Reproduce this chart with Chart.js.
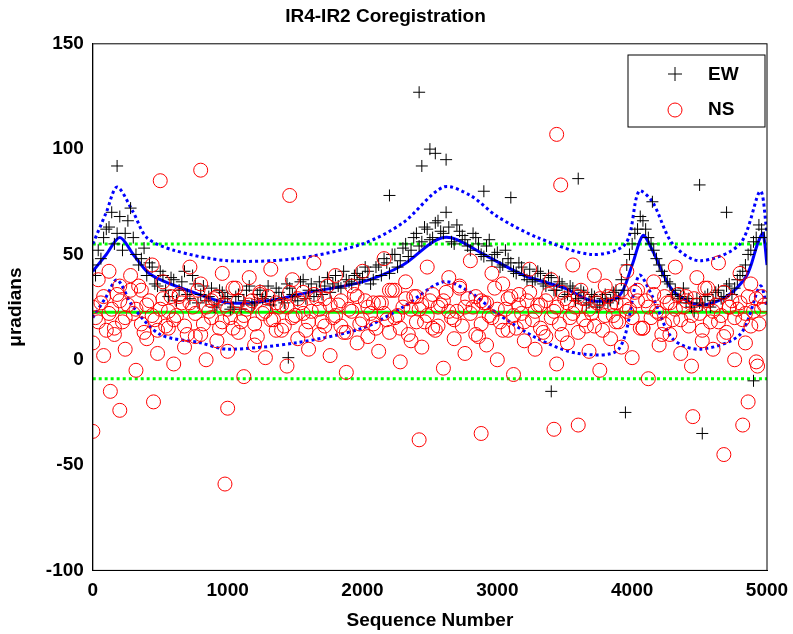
<!DOCTYPE html>
<html><head><meta charset="utf-8">
<script src="https://cdn.jsdelivr.net/npm/chart.js@4/dist/chart.umd.min.js"></script>
<style>html,body{margin:0;background:#fff}#wrap{width:793px;height:634px}</style>
</head><body><div id="wrap"><canvas id="c"></canvas></div>
<script>
'use strict';

const seq = [0,40,80,120,160,200,240,280,320,360,400,440,480,520,560,600,640,680,720,760,800,840,880,920,960,1000,1040,1080,1120,1160,1200,1240,1280,1320,1360,1400,1440,1480,1520,1560,1600,1640,1680,1720,1760,1800,1840,1880,1920,1960,2000,2040,2080,2120,2160,2200,2240,2280,2320,2360,2400,2440,2480,2520,2560,2600,2640,2680,2720,2760,2800,2840,2880,2920,2960,3000,3040,3080,3120,3160,3200,3240,3280,3320,3360,3400,3440,3480,3520,3560,3600,3640,3680,3720,3760,3800,3840,3880,3920,3960,4000,4040,4080,4120,4160,4200,4240,4280,4320,4360,4400,4440,4480,4520,4560,4600,4640,4680,4720,4760,4800,4840,4880,4920,4960];
const seq2 = [20,60,100,140,180,220,260,300,340,380,420,460,500,540,580,620,660,700,740,780,820,860,900,940,980,1020,1060,1100,1140,1180,1220,1260,1300,1340,1380,1420,1460,1500,1540,1580,1620,1660,1700,1740,1780,1820,1860,1900,1940,1980,2020,2060,2100,2140,2180,2220,2260,2300,2340,2380,2420,2460,2500,2540,2580,2620,2660,2700,2740,2780,2820,2860,2900,2940,2980,3020,3060,3100,3140,3180,3220,3260,3300,3340,3380,3420,3460,3500,3540,3580,3620,3660,3700,3740,3780,3820,3860,3900,3940,3980,4020,4060,4100,4140,4180,4220,4260,4300,4340,4380,4420,4460,4500,4540,4580,4620,4660,4700,4740,4780,4820,4860,4900,4940,4980];
const ewY = [45,52,58,63,55,68,60,72,50,48,40,
  44,35,40,30,38,33,42,29,36,31,28,34,26,32,30,
  25,31,28,35,27,33,30,26,34,29,36,31,28,38,33,30,37,35,32,40,34,38,36,41,39,
  42,38,45,48,41,50,47,55,52,60,56,62,58,66,60,
  63,55,61,57,52,58,50,54,47,51,45,48,42,46,40,
  43,38,41,35,39,33,36,31,34,29,32,27,30,26,31,28,33,
  38,45,55,62,66,58,52,45,40,36,33,
  30,27,25,29,26,31,28,33,30,36,34,40,45,52,58,62];
const ewY2 = [40,48,62,70,60,52,66,58,45,53,46,
  36,42,33,39,28,37,31,40,27,35,30,25,33,29,24,
  30,24,33,26,31,29,35,28,32,27,34,30,37,29,36,33,31,39,36,35,42,37,40,38,44,
  36,44,40,46,50,44,53,49,58,54,63,57,65,61,70,
  56,64,59,54,60,55,49,57,50,44,52,46,41,44,38,
  37,42,36,40,33,37,30,35,28,33,26,31,25,29,27,32,29,
  33,50,60,68,62,55,48,42,37,31,29,
  34,29,23,27,30,25,32,29,35,31,38,42,50,56,64,58];
const nsYa = [25,18,30,22,15,28,20,33,24,17,26,21,14,29,23,19,31,16,27,22,
  12,25,20,30,18,24,15,28,21,26,17,32,23,19,27,14,25,20,29,22,
  18,31,24,16,26,21,28,13,23,30,19,25,17,27,22,33,20,15,29,24,
  18,26,21,31,16,28,23,19,35,25,22,30,17,27,20,24,14,29,21,26,
  18,32,23,15,28,20,25,12,27,22,30,19,24,16,29,21,26,18,33,23,
  20,28,15,25,31,22,17,27,24,19,30,21,26,14,28,23,18,32,25,20,
  27,22,16,29,24];
const nsYb = [8,38,2,42,12,35,5,40,-5,33,10,45,3,37,15,-2,30,6,44,11,
  36,0,28,9,41,4,34,13,-8,39,7,31,1,43,14,26,-3,38,10,32,
  5,46,12,29,2,40,16,-6,35,8,42,11,27,4,48,13,33,-1,37,9,
  30,6,44,15,25,-4,39,10,34,3,47,12,28,7,41,0,36,14,-7,31,
  9,43,5,26,11,38,-2,32,8,45,13,29,4,40,-5,35,10,27,6,42,
  1,33,15,-9,37,7,30,12,44,3,28,-3,39,9,34,5,46,11,25,0,
  41,8,36,-1,30];
const nsYc = [20,27,14,24,31,18,26,22,35,13,28,19,24,16,30,21,27,12,25,33,
  17,23,29,15,26,20,34,18,24,28,11,22,30,19,25,16,32,21,27,14,
  23,29,18,35,20,26,13,24,31,17,28,22,15,27,19,33,21,25,12,30,
  24,18,28,14,26,32,20,23,16,29,25,11,27,21,34,18,24,30,15,22,
  28,19,26,13,31,23,17,29,20,25,33,16,22,27,14,30,21,18,26,24,
  32,15,28,20,23,12,27,19,31,25,16,29,22,34,18,26,21,13,28,24,
  19,30,23,17,26];
const ewOutX = [2420,2500,2540,180,2620,2440,2900,3600,4500,3950,4520,3400,1450,3100,4150,2200,4700,4900];
const ewOutY = [127,100,98,92,95,92,80,86,83,-25,-35,-15,1,77,75,78,70,-10];
const nsOutX = [0,980,2420,2880,4680,4820,3440,800,1460,200,1000,4450,3600,3420,450,130,3470,500,4930,4860];
const nsOutY = [-34,-59,-38,-35,-45,-31,107,90,78,-24,-23,-27,-31,-33,-20,-15,83,85,-3,-20];

const meanX = [0,100,200,300,400,500,700,1000,1300,1600,2000,2300,2500,2600,2700,2900,3200,3500,3700,3900,4000,4080,4150,4300,4500,4700,4850,4930,4970,5000];
const meanY = [42,50,58,50,42,38,33,27,28,32,37,45,55,58,57,50,40,34,28,30,45,59,52,33,26,30,40,55,60,45];
const upX = [0,100,180,300,400,600,1000,1500,2000,2300,2600,2800,3000,3300,3700,3950,4050,4150,4300,4500,4800,4950,5000];
const upY = [55,70,82,70,58,52,47,48,55,65,82,78,68,58,50,55,80,75,55,47,55,80,60];
const loX = [0,100,180,300,500,800,1000,1500,2000,2300,2600,2800,3000,3300,3600,3900,4050,4150,4300,4500,4800,4950,5000];
const loY = [20,30,38,25,12,8,5,8,15,25,37,32,22,10,3,5,40,30,10,5,12,35,25];
const centre = 22.5, limitHi = 55, limitLo = -9;

const pts = (xs, ys) => xs.map((x, i) => ({x: x, y: ys[i]}));
const flat = v => [{x: 0, y: v}, {x: 5000, y: v}];

const line = (data, color, dash, width) => ({
  type: 'line', data: data, borderColor: color, borderDash: dash, borderWidth: width,
  pointRadius: 0, fill: false, tension: 0.3
});

const datasets = [
  {type: 'scatter', label: 'NS', data: pts(seq, nsYa).concat(pts(seq, nsYb), pts(seq2, nsYc), pts(nsOutX, nsOutY)),
   pointStyle: 'circle', pointRadius: 7, borderColor: '#ff0000', backgroundColor: 'rgba(0,0,0,0)', borderWidth: 1},
  {type: 'scatter', label: 'EW', data: pts(seq, ewY).concat(pts(seq2, ewY2), pts(ewOutX, ewOutY)),
   pointStyle: 'cross', pointRadius: 6, borderColor: '#000', borderWidth: 1},
  line(pts(meanX, meanY), '#0000ff', [], 3),
  line(pts(upX, upY), '#0000ff', [3, 3], 3),
  line(pts(loX, loY), '#0000ff', [3, 3], 3),
  line(flat(centre), '#00ff00', [], 3),
  line(flat(limitHi), '#00ff00', [3, 3], 3),
  line(flat(limitLo), '#00ff00', [3, 3], 3)
];

const boxPlugin = {
  id: 'box',
  afterDraw(chart) {
    const ctx = chart.ctx, a = chart.chartArea;
    ctx.save();
    ctx.strokeStyle = '#000'; ctx.lineWidth = 1;
    ctx.strokeRect(a.left, a.top, a.right - a.left, a.bottom - a.top);
    const lx = 628, ly = 55, lw = 137, lh = 72;
    ctx.fillStyle = '#fff'; ctx.fillRect(lx, ly, lw, lh); ctx.strokeRect(lx, ly, lw, lh);
    ctx.beginPath();
    ctx.moveTo(668, 74); ctx.lineTo(682, 74); ctx.moveTo(675, 67); ctx.lineTo(675, 81);
    ctx.stroke();
    ctx.strokeStyle = '#ff0000';
    ctx.beginPath(); ctx.arc(675, 110, 7, 0, Math.PI * 2); ctx.stroke();
    ctx.fillStyle = '#000'; ctx.font = 'bold 19px Arial, "Liberation Sans"';
    ctx.textBaseline = 'middle';
    ctx.fillText('EW', 708, 75); ctx.fillText('NS', 708, 110);
    ctx.restore();
  }
};

const font = {family: 'Arial, "Liberation Sans"', weight: 'bold', size: 19};
new Chart(document.getElementById('c'), {
  data: {datasets: datasets},
  options: {
    responsive: true, maintainAspectRatio: false, animation: false,
    layout: {padding: {left: 4, right: 26, top: 0, bottom: 2}},
    plugins: {
      legend: {display: false}, tooltip: {enabled: false},
      title: {display: true, text: 'IR4-IR2 Coregistration', color: '#000', font: font, padding: {top: 5, bottom: 16}}
    },
    scales: {
      x: {type: 'linear', min: 0, max: 5000,
        ticks: {stepSize: 1000, color: '#000', font: font, callback: v => String(v)},
        grid: {display: false, drawTicks: true, tickLength: 6},
        border: {color: '#000'},
        title: {display: true, text: 'Sequence Number', color: '#000', font: font, padding: {top: 4, bottom: 0}}},
      y: {min: -100, max: 150,
        ticks: {stepSize: 50, color: '#000', font: font, callback: v => String(v)},
        grid: {display: false, tickLength: 6},
        border: {color: '#000'},
        title: {display: true, text: 'μradians', color: '#000', font: font, padding: {top: 0, bottom: 16}}}
    }
  },
  plugins: [boxPlugin]
});
</script></body></html>
